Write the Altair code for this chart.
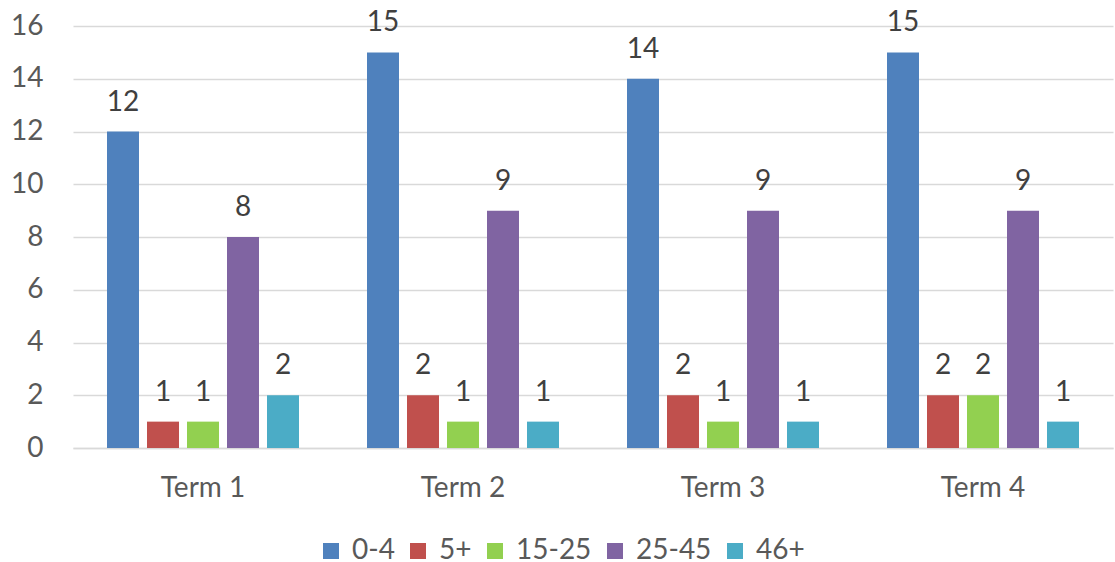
import altair as alt
import pandas as pd

# Enrolment counts by age band for each term
terms = ["Term 1", "Term 2", "Term 3", "Term 4"]
age_bands = ["0-4", "5+", "15-25", "25-45", "46+"]
counts_0_4 = [12, 15, 14, 15]
counts_5p = [1, 2, 2, 2]
counts_15_25 = [1, 1, 1, 2]
counts_25_45 = [8, 9, 9, 9]
counts_46p = [2, 1, 1, 1]
y_ticks = [0, 2, 4, 6, 8, 10, 12, 14, 16]

band_colors = ["#4F81BD", "#C0504D", "#92D050", "#8064A2", "#4BACC6"]

series = [counts_0_4, counts_5p, counts_15_25, counts_25_45, counts_46p]
rows = []
for band, vals in zip(age_bands, series):
    for term, v in zip(terms, vals):
        rows.append({"term": term, "band": band, "count": v})
df = pd.DataFrame(rows)

FONT = "Lato"
FS = 28

x_enc = alt.X(
    "term:N",
    sort=terms,
    title=None,
    scale=alt.Scale(paddingInner=0, paddingOuter=0),
    axis=alt.Axis(labelAngle=0, ticks=False, domain=True, domainColor="#D9D9D9",
                  domainWidth=1.5, labelPadding=26, labelFontSize=FS,
                  labelColor="#595959", labelFont=FONT),
)
xoff_enc = alt.XOffset(
    "band:N", sort=age_bands,
    scale=alt.Scale(paddingInner=0.2, paddingOuter=0.85),
)
y_enc = alt.Y(
    "count:Q",
    title=None,
    scale=alt.Scale(domain=[0, 16], nice=False),
    axis=alt.Axis(values=y_ticks, ticks=False, domain=False, grid=True,
                  gridColor="#D9D9D9", gridWidth=1.5, labelPadding=30,
                  labelFontSize=FS, labelColor="#595959", labelFont=FONT),
)

bars = alt.Chart(df).mark_bar().encode(
    x=x_enc,
    xOffset=xoff_enc,
    y=y_enc,
    color=alt.Color(
        "band:N",
        sort=age_bands,
        scale=alt.Scale(domain=age_bands, range=band_colors),
        legend=alt.Legend(
            title=None, orient="none", direction="horizontal",
            legendX=244, legendY=511, symbolType="square", symbolSize=256,
            symbolStrokeWidth=0, labelFontSize=FS, labelColor="#595959",
            labelFont=FONT, labelOffset=7, columnPadding=9, padding=0,
        ),
    ),
)

labels = alt.Chart(df).mark_text(
    baseline="bottom", dy=-15, fontSize=FS, font=FONT, color="#404040"
).encode(
    x=alt.X("term:N", sort=terms),
    xOffset=alt.XOffset("band:N", sort=age_bands),
    y=alt.Y("count:Q"),
    text=alt.Text("count:Q"),
)

chart = (
    alt.layer(bars, labels)
    .properties(
        width=1040,
        height=422,
        autosize=alt.AutoSizeParams(type="none"),
        padding={"left": 73, "top": 26, "right": 2, "bottom": 114},
        background="white",
    )
    .configure_view(stroke=None)
)

chart.save("out.html", embed_options={"renderer": "svg", "actions": False})
